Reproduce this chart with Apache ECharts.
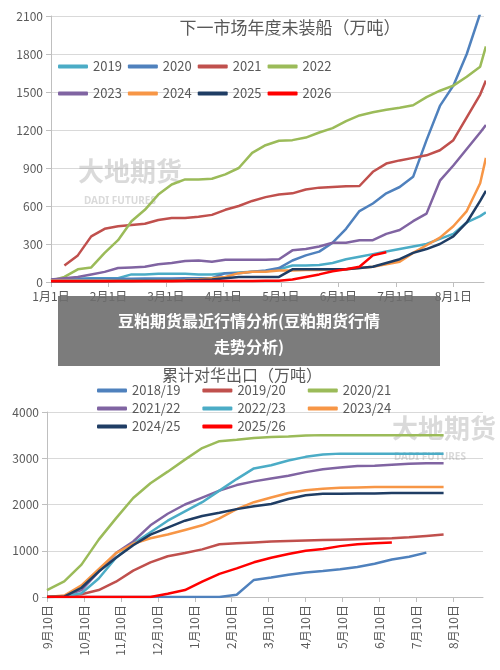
<!DOCTYPE html>
<html>
<head>
<meta charset="utf-8">
<script src="https://cdn.jsdelivr.net/npm/echarts@6/dist/echarts.min.js"></script>
<style>html,body{margin:0;padding:0;background:#fff}#c{width:500px;height:670px}</style>
</head>
<body>
<div id="c"></div>
<script>
// 上图：下一市场年度未装船（万吨），按周，横轴为自1月1日起的天数
const topDays = [0,7,14,21,28,35,42,49,56,63,70,77,84,91,98,105,112,119,126,133,140,147,154,161,168,175,182,189,196,203,210,217,224,227]
const topNames = ['2019','2020','2021','2022','2023','2024','2025','2026']
const topColors = ['#4bacc6','#4f81bd','#c0504d','#9bbb59','#8064a2','#f79646','#1f3d64','#ff0000']
const v2019 = [10,20,25,30,30,30,60,60,65,65,65,60,60,70,75,80,85,100,130,130,135,150,180,200,220,240,260,280,300,340,380,470,520,550]
const v2020 = [20,20,22,25,25,25,25,28,28,28,30,30,30,70,70,80,90,110,170,210,240,310,420,560,620,700,750,830,1120,1390,1550,1800,2120,2250]
const v2021 = [null,130,210,360,420,440,450,460,490,505,505,515,530,570,600,640,670,690,700,730,745,750,755,758,870,935,960,980,1000,1040,1120,1300,1480,1590]
const v2022 = [10,40,100,115,230,330,480,570,690,770,810,810,815,850,900,1020,1080,1115,1120,1140,1180,1215,1270,1315,1340,1360,1375,1395,1460,1510,1550,1620,1700,1860]
const v2023 = [20,30,40,60,80,110,115,120,140,150,165,170,160,175,175,175,175,180,250,260,280,310,310,330,330,380,410,480,540,800,920,1050,1180,1240]
const v2024 = [10,10,10,10,10,10,10,10,12,12,15,20,30,40,70,80,80,90,90,95,95,100,100,110,120,140,160,230,290,350,440,560,780,980]
const v2025 = [5,5,5,5,5,8,8,10,10,10,12,15,20,30,40,40,40,40,100,100,100,100,100,110,120,150,180,230,260,300,360,470,640,720]
const v2026 = [5,5,5,5,5,5,5,5,5,5,8,8,8,8,8,8,10,10,20,40,60,85,100,120,210,235,null,null,null,null,null,null,null,null]
const topValues = [v2019,v2020,v2021,v2022,v2023,v2024,v2025,v2026]

// 下图：累计对华出口（万吨），每两周，横轴为自9月10日起的天数
const botDays = [0,14,28,42,56,70,84,98,112,126,140,154,168,182,196,210,224,238,252,266,280,294,308,322]
const botNames = ['2018/19','2019/20','2020/21','2021/22','2022/23','2023/24','2024/25','2025/26']
const botColors = ['#4f81bd','#c0504d','#9bbb59','#8064a2','#4bacc6','#f79646','#1f3d64','#ff0000']
const e1819 = [0,0,0,0,0,0,0,0,0,0,0,50,370,420,480,530,560,600,650,720,810,870,960,null]
const e1920 = [0,20,60,150,330,570,750,880,950,1030,1140,1160,1180,1200,1210,1220,1230,1240,1250,1260,1270,1290,1320,1350]
const e2021 = [150,340,700,1240,1700,2140,2460,2710,2970,3220,3370,3400,3440,3460,3470,3490,3500,3500,3500,3500,3500,3500,3500,3500]
const e2122 = [0,20,150,550,950,1200,1550,1800,2000,2150,2300,2420,2500,2560,2620,2700,2760,2800,2830,2840,2860,2880,2890,2890]
const e2223 = [0,10,80,400,850,1150,1400,1650,1850,2050,2300,2550,2780,2850,2950,3030,3080,3100,3100,3100,3100,3100,3100,3100]
const e2324 = [0,30,250,600,950,1150,1270,1350,1450,1550,1700,1900,2050,2150,2250,2310,2340,2360,2370,2380,2380,2380,2380,2380]
const e2425 = [0,10,200,550,850,1120,1350,1500,1650,1750,1820,1900,1960,2010,2120,2200,2230,2230,2240,2240,2250,2250,2250,2250]
const e2526 = [0,0,0,0,0,0,0,70,150,330,500,620,750,850,930,1000,1040,1100,1140,1160,1180,null,null,null]
const botValues = [e1819,e1920,e2021,e2122,e2223,e2324,e2425,e2526]

const gray = '#595959'
const font = 'Noto Sans CJK SC'

function mkSeries(names, colors, values, days, idx) {
    return names.map((n, i) => ({
        name: n,
        type: 'line',
        xAxisIndex: idx,
        yAxisIndex: idx,
        symbol: 'none',
        lineStyle: { width: 2.5, color: colors[i] },
        itemStyle: { color: colors[i] },
        data: values[i].map((v, j) => [days[j], v]),
        z: 2 + i
    }))
}

const legendBase = {
    itemWidth: 30,
    itemHeight: 4,
    icon: 'roundRect',
    textStyle: { color: gray, fontSize: 13, fontFamily: font },
    padding: 0
}

const chart = echarts.init(document.getElementById('c'))
chart.setOption({
    animation: false,
    textStyle: { fontFamily: font },
    title: [
        { text: '下一市场年度未装船（万吨）', left: 285, top: 14, textAlign: 'center', textStyle: { fontSize: 17, fontWeight: 'normal', color: gray } },
        { text: '累计对华出口（万吨）', left: 237, top: 362, textAlign: 'center', textStyle: { fontSize: 16, fontWeight: 'normal', color: gray } }
    ],
    legend: [
        { ...legendBase, data: topNames.slice(0, 4), left: 58, top: 60, itemGap: 6 },
        { ...legendBase, data: topNames.slice(4), left: 58, top: 87, itemGap: 6 },
        { ...legendBase, data: botNames.slice(0, 3), left: 97, top: 384, itemGap: 22 },
        { ...legendBase, data: botNames.slice(3, 6), left: 97, top: 402, itemGap: 22 },
        { ...legendBase, data: botNames.slice(6), left: 97, top: 420, itemGap: 22 }
    ],
    grid: [
        { left: 51, right: 16, top: 16, height: 266 },
        { left: 47, right: 17, top: 412, height: 185 }
    ],
    xAxis: [
        {
            type: 'value', gridIndex: 0, min: 0, max: 226, interval: 30,
            axisLine: { lineStyle: { color: '#bfbfbf' } },
            axisTick: { show: true, lineStyle: { color: '#bfbfbf' } },
            splitLine: { show: false },
            axisLabel: { color: gray, fontSize: 12, formatter: v => (v / 30 + 1) + '月1日' }
        },
        {
            type: 'value', gridIndex: 1, min: 0, max: 354, interval: 30,
            axisLine: { lineStyle: { color: '#bfbfbf' } },
            axisTick: { show: true, lineStyle: { color: '#bfbfbf' } },
            splitLine: { show: false },
            axisLabel: {
                color: gray, fontSize: 12, rotate: 90, showMaxLabel: false,
                formatter: v => (((v / 30) + 8) % 12 + 1) + '月10日'
            }
        }
    ],
    yAxis: [
        {
            type: 'value', gridIndex: 0, min: 0, max: 2100, interval: 300,
            axisLine: { show: true, lineStyle: { color: '#bfbfbf' } },
            splitLine: { lineStyle: { color: '#d9d9d9' } },
            axisLabel: { color: gray, fontSize: 12, formatter: v => String(v) }
        },
        {
            type: 'value', gridIndex: 1, min: 0, max: 4000, interval: 1000,
            axisLine: { show: true, lineStyle: { color: '#bfbfbf' } },
            splitLine: { lineStyle: { color: '#d9d9d9' } },
            axisLabel: { color: gray, fontSize: 12, formatter: v => String(v) }
        }
    ],
    series: [
        ...mkSeries(topNames, topColors, topValues, topDays, 0),
        ...mkSeries(botNames, botColors, botValues, botDays, 1)
    ],
    graphic: [
        { type: 'text', x: 78, y: 158, z: 1, style: { text: '大地期货', fill: 'rgba(150,150,150,0.35)', font: 'bold 26px "Noto Sans CJK SC"' } },
        { type: 'text', x: 84, y: 196, z: 1, style: { text: 'DADI FUTURES', fill: 'rgba(150,150,150,0.35)', font: 'bold 10px "Noto Sans"' } },
        { type: 'text', x: 392, y: 415, z: 1, style: { text: '大地期货', fill: 'rgba(150,150,150,0.35)', font: 'bold 26px "Noto Sans CJK SC"' } },
        { type: 'text', x: 394, y: 452, z: 1, style: { text: 'DADI FUTURES', fill: 'rgba(150,150,150,0.35)', font: 'bold 10px "Noto Sans"' } },
        { type: 'rect', x: 58, y: 296, z: 100, shape: { width: 382, height: 70 }, style: { fill: 'rgba(110,110,110,0.9)' } },
        { type: 'text', x: 249, y: 308, z: 101, style: { text: '豆粕期货最近行情分析(豆粕期货行情\n走势分析)', fill: '#fff', align: 'center', verticalAlign: 'top', lineHeight: 26, font: 'bold 16px "Noto Sans CJK SC"' } }
    ]
})
</script>
</body>
</html>
